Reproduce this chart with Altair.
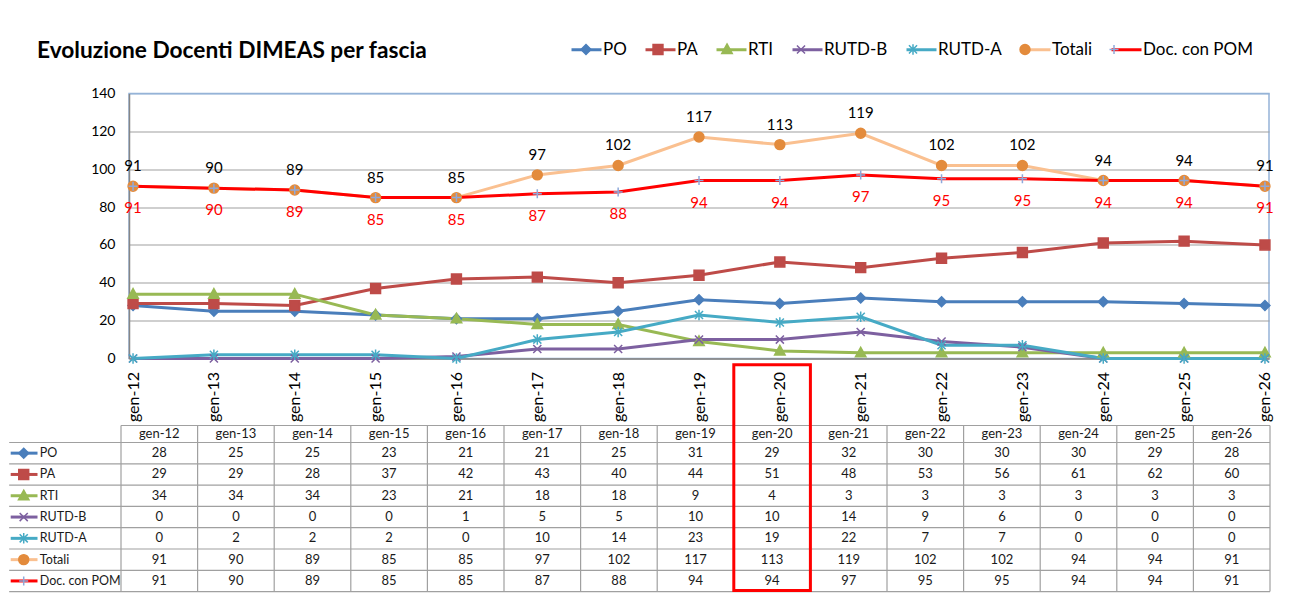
import altair as alt
import pandas as pd

# ---------------- data ----------------
categories = ["gen-12", "gen-13", "gen-14", "gen-15", "gen-16", "gen-17", "gen-18",
              "gen-19", "gen-20", "gen-21", "gen-22", "gen-23", "gen-24", "gen-25", "gen-26"]
series_names = ["PO", "PA", "RTI", "RUTD-B", "RUTD-A", "Totali", "Doc. con POM"]
po = [28, 25, 25, 23, 21, 21, 25, 31, 29, 32, 30, 30, 30, 29, 28]
pa = [29, 29, 28, 37, 42, 43, 40, 44, 51, 48, 53, 56, 61, 62, 60]
rti = [34, 34, 34, 23, 21, 18, 18, 9, 4, 3, 3, 3, 3, 3, 3]
rutd_b = [0, 0, 0, 0, 1, 5, 5, 10, 10, 14, 9, 6, 0, 0, 0]
rutd_a = [0, 2, 2, 2, 0, 10, 14, 23, 19, 22, 7, 7, 0, 0, 0]
totali = [91, 90, 89, 85, 85, 97, 102, 117, 113, 119, 102, 102, 94, 94, 91]
doc_pom = [91, 90, 89, 85, 85, 87, 88, 94, 94, 97, 95, 95, 94, 94, 91]
y_ticks = [0, 20, 40, 60, 80, 100, 120, 140]
highlight = "gen-20"
title_text = "Evoluzione Docenti DIMEAS per fascia"

values = {"PO": po, "PA": pa, "RTI": rti, "RUTD-B": rutd_b, "RUTD-A": rutd_a,
          "Totali": totali, "Doc. con POM": doc_pom}

# ---------------- styles ----------------
FONT = "Lato"
FRAME = "#95B3D7"
GRID = "#A0A0A0"
AXIS = "#868686"
line_col = {"PO": "#4A7EBB", "PA": "#BE4B48", "RTI": "#98B954", "RUTD-B": "#7D60A0",
            "RUTD-A": "#46AAC5", "Totali": "#FAC090", "Doc. con POM": "#FF0000"}
mk_fill = {"PO": "#4A7EBB", "PA": "#BE4B48", "RTI": "#98B954", "RUTD-B": "transparent",
           "RUTD-A": "transparent", "Totali": "#E38B3C", "Doc. con POM": "transparent"}
mk_stroke = {"PO": "#4A7EBB", "PA": "#BE4B48", "RTI": "#98B954", "RUTD-B": "#7D60A0",
             "RUTD-A": "#46AAC5", "Totali": "#E38B3C", "Doc. con POM": "#8EA9DB"}
raw_shape = {
    "PO": "M0,-0.33L0.33,0L0,0.33L-0.33,0Z",
    "PA": "M-0.33,-0.33H0.33V0.33H-0.33Z",
    "RTI": "M0,-0.37L0.35,0.27H-0.35Z",
    "RUTD-B": "M-0.27,-0.27L0.27,0.27M-0.27,0.27L0.27,-0.27",
    "RUTD-A": "M-0.27,-0.27L0.27,0.27M-0.27,0.27L0.27,-0.27M0,-0.35V0.35",
    "Totali": "M-0.33,0A0.33,0.33,0,1,0,0.33,0A0.33,0.33,0,1,0,-0.33,0Z",
    "Doc. con POM": "M-0.3,0H0.3M0,-0.3V0.3",
}
# invisible zero-length segments give every marker the same horizontal extent as
# the legend line symbol, so the marker legend lays out exactly like the line legend
PAD = "M-1.05,0L-1.05,0M1.05,0L1.05,0"
mk_shape = {s: PAD + p for s, p in raw_shape.items()}
MK_SIZE = 900

# ---------------- line chart ----------------
rows = []
for s in series_names:
    for i, c in enumerate(categories):
        rows.append({"cat": c, "serie": s, "serie_m": s, "val": values[s][i]})
df = pd.DataFrame(rows)

W, H = 1140, 265

common_leg = dict(orient="none", legendX=441, legendY=-60.5, direction="horizontal", columns=7,
                  title=None, symbolSize=MK_SIZE, labelFontSize=17, labelFont=FONT,
                  labelColor="#000", columnPadding=12, padding=0, labelLimit=400)
# line part of the legend (visible labels)
leg_lines = alt.Legend(symbolType="stroke", symbolStrokeWidth=3, labelOffset=0, **common_leg)
# marker part of the legend, drawn over the line part (same layout, hidden labels)
leg_marks = alt.Legend(symbolStrokeWidth=1.5, labelOffset=1, labelOpacity=0, **common_leg)

x_enc = alt.X("cat:N", sort=categories,
              scale=alt.Scale(type="point", padding=0.05),
              axis=alt.Axis(title=None, labelAngle=270, labelFontSize=16, labelFont=FONT,
                            labelColor="#000", labelPadding=13, ticks=False, grid=False,
                            domainColor=AXIS, domainWidth=1.5))
y_enc = alt.Y("val:Q", scale=alt.Scale(domain=[0, 140], nice=False),
              axis=alt.Axis(title=None, values=y_ticks, labelFontSize=14, labelFont=FONT,
                            labelColor="#000", labelPadding=14, ticks=False,
                            domainColor=AXIS, domainWidth=1.5, gridWidth=1.2,
                            gridColor={"condition": {"test": "datum.value === 140", "value": FRAME},
                                       "value": GRID}))

base = alt.Chart(df)
lines = base.mark_line(strokeWidth=3).encode(
    x=x_enc, y=y_enc,
    color=alt.Color("serie:N", sort=series_names,
                    scale=alt.Scale(range=[line_col[s] for s in series_names]), legend=leg_lines),
)
points = base.mark_point(filled=True, size=MK_SIZE, strokeWidth=1.5, opacity=1).encode(
    x=x_enc, y=y_enc,
    shape=alt.Shape("serie_m:N",
                    scale=alt.Scale(domain=series_names, range=[mk_shape[s] for s in series_names]),
                    legend=leg_marks),
    fill=alt.Fill("serie_m:N",
                  scale=alt.Scale(domain=series_names, range=[mk_fill[s] for s in series_names]),
                  legend=leg_marks),
    stroke=alt.Stroke("serie_m:N",
                      scale=alt.Scale(domain=series_names, range=[mk_stroke[s] for s in series_names]),
                      legend=leg_marks),
)
lbl_tot = alt.Chart(df[df.serie == "Totali"]).mark_text(
    dy=-20, fontSize=15, font=FONT, color="#000").encode(x=x_enc, y=y_enc, text="val:Q")
lbl_doc = alt.Chart(df[df.serie == "Doc. con POM"]).mark_text(
    dy=22, fontSize=15, font=FONT, color="#FF0000").encode(x=x_enc, y=y_enc, text="val:Q")

line_chart = alt.layer(lines, points, lbl_tot, lbl_doc).properties(
    width=W, height=H, view=alt.ViewBackground(stroke=FRAME, strokeWidth=1.5))

# ---------------- data table ----------------
COL_W = 76.6
ROW_H = 21.3
HDR = 17 / ROW_H
n_rows = len(series_names)
bottom = HDR + n_rows
d0 = 8 / COL_W
xs = alt.Scale(domain=[d0, d0 + W / COL_W], nice=False, zero=False)
ys = alt.Scale(domain=[0, bottom], nice=False, zero=False, reverse=True)
LAB_L = -1.46

cells, hdr, labs, icons = [], [], [], []
for c, cat in enumerate(categories):
    hdr.append({"xc": c + 0.5, "yc": HDR / 2, "txt": cat})
for r, s in enumerate(series_names):
    yc = HDR + r + 0.5
    for c, cat in enumerate(categories):
        cells.append({"xc": c + 0.5, "yc": yc, "txt": str(values[s][c])})
    labs.append({"xl": -1.06, "yc": yc, "txt": s})
    icons.append({"x1": -1.44, "x2": -1.09, "xm": -1.27, "yc": yc, "lc": line_col[s],
                  "shape": raw_shape[s], "fill": mk_fill[s], "stroke": mk_stroke[s]})
hl = [{"y": 0, "x1": 0, "x2": len(categories)}] + \
     [{"y": HDR + i, "x1": LAB_L, "x2": len(categories)} for i in range(n_rows + 1)]
vl = [{"x": k, "y1": 0, "y2": bottom} for k in range(len(categories) + 1)]
hi = categories.index(highlight)
box = [{"x1": hi, "x2": hi + 1, "y1": -2.85, "y2": bottom - 0.05}]


def X(f):
    return alt.X(f, scale=xs, axis=None)


def Y(f):
    return alt.Y(f, scale=ys, axis=None)


t_h = alt.Chart(pd.DataFrame(hl)).mark_rule(color=GRID, strokeWidth=1.2).encode(
    x=X("x1:Q"), x2="x2:Q", y=Y("y:Q"))
t_v = alt.Chart(pd.DataFrame(vl)).mark_rule(color=GRID, strokeWidth=1.2).encode(
    x=X("x:Q"), y=Y("y1:Q"), y2="y2:Q")
t_hdr = alt.Chart(pd.DataFrame(hdr)).mark_text(fontSize=13, font=FONT, color="#1a1a1a").encode(
    x=X("xc:Q"), y=Y("yc:Q"), text="txt:N")
t_cells = alt.Chart(pd.DataFrame(cells)).mark_text(fontSize=13, font=FONT, color="#1a1a1a").encode(
    x=X("xc:Q"), y=Y("yc:Q"), text="txt:N")
t_labs = alt.Chart(pd.DataFrame(labs)).mark_text(fontSize=12.5, font=FONT, color="#1a1a1a",
                                                  align="left").encode(
    x=X("xl:Q"), y=Y("yc:Q"), text="txt:N")
icon_df = pd.DataFrame(icons)
t_iline = alt.Chart(icon_df).mark_rule(strokeWidth=3).encode(
    x=X("x1:Q"), x2="x2:Q", y=Y("yc:Q"), color=alt.Color("lc:N", scale=None))
t_imark = alt.Chart(icon_df).mark_point(filled=True, size=MK_SIZE, strokeWidth=1.5, opacity=1).encode(
    x=X("xm:Q"), y=Y("yc:Q"),
    shape=alt.Shape("shape:N", scale=None),
    fill=alt.Fill("fill:N", scale=None),
    stroke=alt.Stroke("stroke:N", scale=None))
t_box = alt.Chart(pd.DataFrame(box)).mark_rect(fillOpacity=0, stroke="#FF0000", strokeWidth=3).encode(
    x=X("x1:Q"), x2="x2:Q", y=Y("y1:Q"), y2="y2:Q")

table = alt.layer(t_h, t_v, t_iline, t_imark, t_hdr, t_cells, t_labs, t_box).properties(
    width=W, height=bottom * ROW_H, view=alt.ViewBackground(stroke="transparent"))

chart = alt.vconcat(line_chart, table, spacing=67, bounds="flush").properties(
    title=alt.TitleParams(title_text, anchor="start", font=FONT, fontSize=22.7, fontWeight="bold",
                          color="#000", dx=29, offset=-30),
    padding={"left": 0, "top": 24.5, "right": 5, "bottom": 0},
).configure_view(stroke="transparent")

chart.save("out.html", embed_options={"renderer": "svg", "actions": False})
